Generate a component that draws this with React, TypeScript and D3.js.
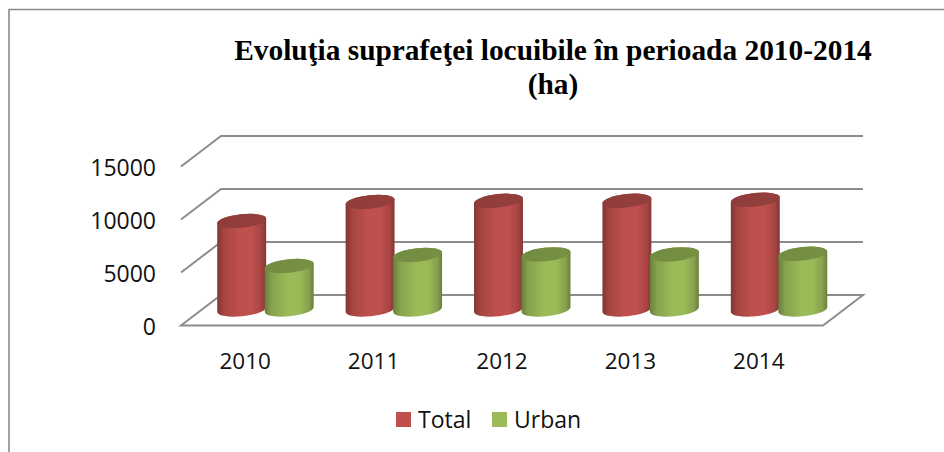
import React from "react";
import * as d3 from "d3";

const categories = ["2010", "2011", "2012", "2013", "2014"];
const seriesNames = ["Total", "Urban"];
const totalValues = [8350, 10150, 10250, 10250, 10350];
const urbanValues = [4100, 5150, 5200, 5200, 5250];
const tickValues = [0, 5000, 10000, 15000];
const colors = ["#c0504d", "#9bbb59"];
const titleLines = ["Evoluţia suprafeţei locuibile în perioada 2010-2014", "(ha)"];

const W = 944, H = 452;
const left = 181, right = 823, front0 = 325.5, dx = 40, dy = 30.5;
const font = "'Open Sans', sans-serif";

const x = d3.scaleBand<string>().domain(categories).range([left, right]);
const y = d3.scaleLinear().domain([0, 15000]).range([front0, front0 - 159]);

const rx = 24.6, ry = 6.8, rot = -6;
const hw = rx * Math.cos((6 * Math.PI) / 180);
const tilt = rx * Math.sin((6 * Math.PI) / 180);

function Cylinder({ cx, value, i }: { cx: number; value: number; i: number }) {
  const base = y(0) - 16;
  const top = y(value) - 16;
  const d =
    `M${cx - hw},${top + tilt}L${cx - hw},${base + tilt}` +
    `A${rx},${ry} ${rot} 0 0 ${cx + hw},${base - tilt}` +
    `L${cx + hw},${top - tilt}` +
    `A${rx},${ry} ${rot} 0 0 ${cx - hw},${top + tilt}Z`;
  return (
    <g>
      <path d={d} fill={`url(#grad${i})`} />
      <ellipse cx={cx} cy={top} rx={rx} ry={ry} transform={`rotate(${rot} ${cx} ${top})`} fill={`url(#cap${i})`} />
    </g>
  );
}

function Grad({ id, c }: { id: string; c: string }) {
  const base = d3.color(c)!;
  const dark = base.darker(1.1).formatHex();
  const mid = base.darker(0.4).formatHex();
  return (
    <linearGradient id={id} x1="0" x2="1" y1="0" y2="0">
      <stop offset="0" stopColor={dark} />
      <stop offset="0.14" stopColor={mid} />
      <stop offset="0.48" stopColor={c} />
      <stop offset="0.7" stopColor={c} />
      <stop offset="0.9" stopColor={mid} />
      <stop offset="1" stopColor={dark} />
    </linearGradient>
  );
}

export default function App() {
  const step = x.bandwidth();
  return (
    <svg width={W} height={H} viewBox={`0 0 ${W} ${H}`} style={{ position: "absolute", left: 0, top: 0, background: "#fff" }}>
      <defs>
        <Grad id="grad0" c={colors[0]} />
        <Grad id="grad1" c={colors[1]} />
        <linearGradient id="cap0"><stop offset="0" stopColor="#8f3d3b" /><stop offset="1" stopColor="#943f3d" /></linearGradient>
        <linearGradient id="cap1"><stop offset="0" stopColor="#728c42" /><stop offset="1" stopColor="#769144" /></linearGradient>
      </defs>
      <path d={`M9,${H}V9.5H${W}`} fill="none" stroke="#8a8a8a" strokeWidth={1.6} />
      {titleLines.map((t, i) => (
        <text key={t} x={553} y={60 + i * 34} textAnchor="middle" fontFamily="'Liberation Serif', serif" fontWeight="bold" fontSize={29.4} fill="#000">{t}</text>
      ))}
      {tickValues.map((v) => (
        <g key={v}>
          <path
            d={v === 0
              ? `M${left + dx},${y(v) - dy}H${right + dx}L${right},${y(v)}H${left}Z`
              : `M${left},${y(v)}L${left + dx},${y(v) - dy}H${right + dx}`}
            fill={v === 0 ? "#fff" : "none"}
            stroke="#8c8c8c"
            strokeWidth={2}
          />
          <text x={156} y={y(v) + 1} dy="0.36em" textAnchor="end" fontFamily={font} fontSize={23} fill="#111">{v}</text>
        </g>
      ))}
      {categories.map((c, i) => {
        const center = x(c)! + step / 2;
        return (
          <g key={c}>
            <Cylinder cx={center + dx / 2 - 23.5} value={totalValues[i]} i={0} />
            <Cylinder cx={center + dx / 2 + 24} value={urbanValues[i]} i={1} />
            <text x={center} y={361} dy="0.36em" textAnchor="middle" fontFamily={font} fontSize={22.5} fill="#111">{c}</text>
          </g>
        );
      })}
      {seriesNames.map((s, i) => {
        const lx = 396 + i * 96;
        return (
          <g key={s}>
            <rect x={lx} y={412} width={15} height={15} fill={colors[i]} />
            <text x={lx + 22} y={420} dy="0.36em" fontFamily={font} fontSize={23} fill="#111">{s}</text>
          </g>
        );
      })}
    </svg>
  );
}
